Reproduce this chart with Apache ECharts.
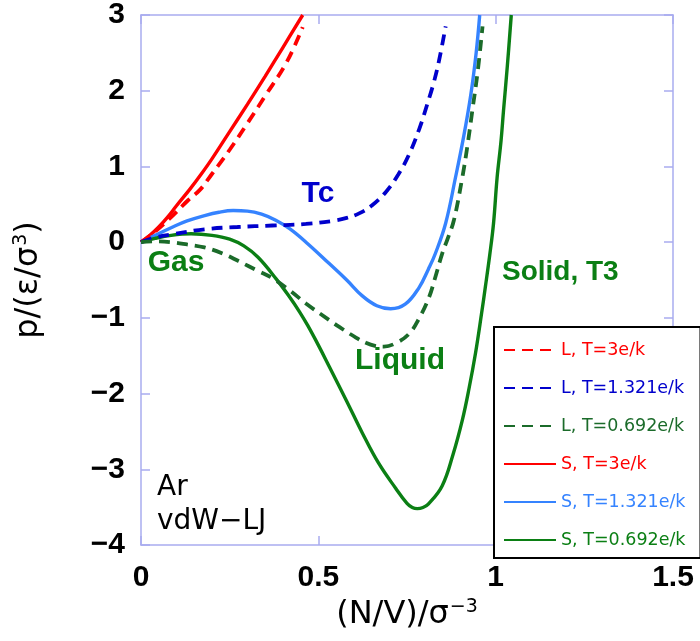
<!DOCTYPE html>
<html>
<head>
<meta charset="utf-8">
<script src="https://cdn.jsdelivr.net/npm/echarts@6/dist/echarts.min.js"></script>
<style>
html,body{margin:0;padding:0;background:#fff;}
#chart{width:700px;height:641px;}
</style>
</head>
<body>
<div id="chart"></div>
<script>
// density (N/V)σ^3 and pressure p/(ε/σ^3)
var rhoL3 = [0, 0.04, 0.085, 0.132, 0.166, 0.2, 0.25, 0.3, 0.35, 0.411, 0.456];
var pL3   = [0, 0.14, 0.33, 0.55, 0.69, 0.9, 1.22, 1.57, 1.93, 2.38, 2.84];

var rhoL1321 = [0, 0.04, 0.085, 0.179, 0.272, 0.37, 0.465, 0.54, 0.58, 0.615, 0.65, 0.69, 0.725, 0.756, 0.785, 0.807, 0.825, 0.84, 0.859];
var pL1321   = [0, 0.06, 0.1, 0.17, 0.2, 0.22, 0.24, 0.28, 0.32, 0.38, 0.48, 0.66, 0.89, 1.16, 1.5, 1.82, 2.1, 2.39, 2.85];

var rhoL0692 = [0, 0.04, 0.085, 0.13, 0.179, 0.23, 0.275, 0.33, 0.372, 0.42, 0.465, 0.531, 0.559, 0.606, 0.634, 0.66, 0.685, 0.72, 0.756, 0.785, 0.812, 0.83, 0.849, 0.865, 0.882, 0.906, 0.92, 0.934, 0.95, 0.963];
var pL0692   = [0, 0.01, 0, -0.03, -0.07, -0.15, -0.25, -0.38, -0.48, -0.64, -0.81, -1.03, -1.12, -1.26, -1.33, -1.37, -1.38, -1.33, -1.21, -1.0, -0.73, -0.46, -0.155, 0.05, 0.285, 0.855, 1.26, 1.73, 2.28, 2.85];

var rhoS3 = [0, 0.025, 0.05, 0.075, 0.1, 0.138, 0.17, 0.2, 0.25, 0.3, 0.35, 0.4, 0.456];
var pS3   = [0, 0.09, 0.2, 0.33, 0.48, 0.7, 0.9, 1.1, 1.46, 1.82, 2.19, 2.57, 3.0];

var rhoS1321 = [0, 0.04, 0.085, 0.13, 0.179, 0.22, 0.26, 0.3, 0.34, 0.38, 0.42, 0.47, 0.53, 0.58, 0.624, 0.665, 0.704, 0.745, 0.784, 0.81, 0.83, 0.859, 0.887, 0.91, 0.93, 0.945, 0.955];
var pS1321   = [0, 0.09, 0.19, 0.28, 0.35, 0.395, 0.417, 0.41, 0.37, 0.29, 0.175, -0.02, -0.28, -0.5, -0.71, -0.84, -0.88, -0.82, -0.6, -0.36, -0.15, 0.25, 0.86, 1.4, 1.95, 2.5, 3.0];

var rhoS0692 = [0, 0.04, 0.085, 0.141, 0.2, 0.25, 0.29, 0.33, 0.381, 0.419, 0.447, 0.47, 0.5, 0.531, 0.58, 0.624, 0.67, 0.718, 0.75, 0.765, 0.779, 0.795, 0.81, 0.849, 0.88, 0.906, 0.925, 0.943, 0.96, 0.971, 0.983, 0.994, 1.004, 1.015, 1.022, 1.033, 1.044];
var pS0692   = [0, 0.05, 0.09, 0.11, 0.09, 0.04, -0.05, -0.2, -0.485, -0.725, -0.92, -1.1, -1.36, -1.645, -2.1, -2.52, -2.92, -3.25, -3.45, -3.505, -3.52, -3.505, -3.46, -3.22, -2.8, -2.35, -1.93, -1.47, -0.95, -0.59, -0.18, 0.25, 0.85, 1.33, 1.73, 2.33, 3.0];

var xTicks = [0, 0.5, 1, 1.5];
var yTicks = [-4, -3, -2, -1, 0, 1, 2, 3];

var names = ['L, T=3e/k', 'L, T=1.321e/k', 'L, T=0.692e/k', 'S, T=3e/k', 'S, T=1.321e/k', 'S, T=0.692e/k'];
var colors = ['#ff0000', '#0000cc', '#1b6b2a', '#ff0000', '#3583ff', '#0b7f14'];

function pairs(xs, ys){
	var out = [];
	for (var i = 0; i < xs.length; i++) { out.push([xs[i], ys[i]]); }
	return out;
}
var curves = [
	pairs(rhoL3, pL3), pairs(rhoL1321, pL1321), pairs(rhoL0692, pL0692),
	pairs(rhoS3, pS3), pairs(rhoS1321, pS1321), pairs(rhoS0692, pS0692)
];

var frame = '#a9acef';
var chart = echarts.init(document.getElementById('chart'));

var series = [];
for (var i = 0; i < 6; i++) {
	var dashed = i < 3;
	series.push({
		name: names[i],
		type: 'line',
		data: curves[i],
		symbol: 'none',
		smooth: 0.4,
		z: dashed ? 3 : 2,
		lineStyle: {
			color: colors[i],
			width: dashed ? 3.8 : 3.4,
			type: dashed ? [11, 7] : 'solid',
			cap: 'butt'
		},
		itemStyle: {color: colors[i]}
	});
}

function minus(v){ return String(v).replace('-', '\u2212'); }

var tickLabel = {fontFamily: 'Liberation Sans', fontWeight: 'bold', fontSize: 30, color: '#000'};
var frameLine = {show: true, onZero: false, lineStyle: {color: frame, width: 1.5}};
var frameTick = {inside: true, length: 9, lineStyle: {color: frame, width: 1.5}};
var titleRich = {
	a: {fontFamily: 'DejaVu Sans', fontSize: 32, color: '#000'},
	s: {fontFamily: 'DejaVu Sans', fontSize: 19, color: '#000', verticalAlign: 'top', padding: [0, 0, 14, 1]}
};

var option = {
	animation: false,
	grid: {left: 141, right: 27, top: 14, bottom: 96, containLabel: false},
	legend: {
		orient: 'vertical',
		left: 494,
		top: 327,
		backgroundColor: '#fff',
		borderColor: '#000',
		borderWidth: 2,
		padding: [14, 15, 9, 9],
		itemWidth: 52,
		itemHeight: 14,
		itemGap: 20,
		itemStyle: {opacity: 0},
		textStyle: {fontFamily: 'DejaVu Sans', fontSize: 17.5, padding: [0, 0, 0, 0]},
		data: names.map(function(n, i){ return {name: n, textStyle: {color: colors[i]}}; })
	},
	xAxis: [{
		type: 'value', min: xTicks[0], max: xTicks[xTicks.length - 1], interval: 0.5,
		name: '{a|(N/V)/σ}{s|\u22123}',
		nameLocation: 'middle', nameGap: 44,
		nameTextStyle: {rich: titleRich},
		axisLine: frameLine,
		axisTick: frameTick,
		axisLabel: Object.assign({margin: 18}, tickLabel),
		splitLine: {show: false}
	}, {
		type: 'value', position: 'top', min: 0, max: 1.5, interval: 0.5,
		axisLine: frameLine,
		axisTick: frameTick,
		axisLabel: {show: false},
		splitLine: {show: false}
	}],
	yAxis: [{
		type: 'value', min: yTicks[0], max: yTicks[yTicks.length - 1], interval: 1,
		name: '{a|p/(ε/σ}{s|3}{a|)}',
		nameLocation: 'middle', nameGap: 96,
		nameTextStyle: {rich: titleRich},
		axisLine: frameLine,
		axisTick: frameTick,
		axisLabel: Object.assign({margin: 16, formatter: minus}, tickLabel),
		splitLine: {show: false}
	}, {
		type: 'value', position: 'right', min: -4, max: 3, interval: 1,
		axisLine: frameLine,
		axisTick: frameTick,
		axisLabel: {show: false},
		splitLine: {show: false}
	}],
	graphic: [
		{type: 'text', x: 318, y: 194, style: {text: 'Tc', fill: '#0000cc', font: 'bold 30px "Liberation Sans"', align: 'center', verticalAlign: 'middle'}},
		{type: 'text', x: 176, y: 263, style: {text: 'Gas', fill: '#0b7f14', font: 'bold 30px "Liberation Sans"', align: 'center', verticalAlign: 'middle'}},
		{type: 'text', x: 400, y: 361, style: {text: 'Liquid', fill: '#0b7f14', font: 'bold 30px "Liberation Sans"', align: 'center', verticalAlign: 'middle'}},
		{type: 'text', x: 502, y: 272, style: {text: 'Solid, T3', fill: '#0b7f14', font: 'bold 28px "Liberation Sans"', align: 'left', verticalAlign: 'middle'}},
		{type: 'text', x: 157, y: 488, style: {text: 'Ar', fill: '#000', font: '28px "DejaVu Sans"', align: 'left', verticalAlign: 'middle'}},
		{type: 'text', x: 157, y: 522, style: {text: 'vdW\u2212LJ', fill: '#000', font: '28px "DejaVu Sans"', align: 'left', verticalAlign: 'middle'}}
	],
	series: series
};

chart.setOption(option);
</script>
</body>
</html>
